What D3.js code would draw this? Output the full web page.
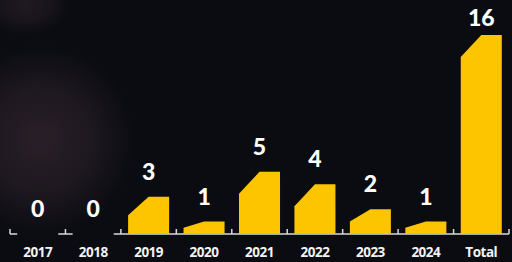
<!DOCTYPE html>
<html>
<head>
<meta charset="utf-8">
<script src="https://cdn.jsdelivr.net/npm/d3@7"></script>
<style>
  html, body { margin: 0; padding: 0; background: #0a0c11; }
  svg { display: block; }
</style>
</head>
<body>
<div id="chart"></div>
<script>
var years = ['2017', '2018', '2019', '2020', '2021', '2022', '2023', '2024', 'Total'];
var counts = [0, 0, 3, 1, 5, 4, 2, 1, 16];

var width = 512, height = 262;
var baseline = 234;

var svg = d3.select('#chart')
    .append('svg')
    .attr('width', width)
    .attr('height', height);

// soft purple glow left over from the photo behind the chart
var defs = svg.append('defs');
var glow = defs.append('radialGradient').attr('id', 'glow');
glow.append('stop').attr('offset', '0%').attr('stop-color', '#2b2029').attr('stop-opacity', 0.95);
glow.append('stop').attr('offset', '55%').attr('stop-color', '#2b2029').attr('stop-opacity', 0.6);
glow.append('stop').attr('offset', '100%').attr('stop-color', '#2b2029').attr('stop-opacity', 0);

svg.append('rect')
    .attr('width', width)
    .attr('height', height)
    .attr('fill', '#0a0c11');

svg.append('ellipse')
    .attr('cx', 40).attr('cy', 140)
    .attr('rx', 95).attr('ry', 95)
    .attr('fill', 'url(#glow)');
svg.append('ellipse')
    .attr('cx', 25).attr('cy', 5)
    .attr('rx', 45).attr('ry', 30)
    .attr('fill', 'url(#glow)')
    .attr('opacity', 0.7);

var x = d3.scaleBand()
    .domain(years)
    .range([10, 509])
    .paddingInner(0.26)
    .paddingOuter(0.13);

var y = d3.scaleLinear()
    .domain([0, 16])
    .range([baseline, 35]);

// axis: light line with little ticks between the bars
var axis = svg.append('g')
    .attr('transform', 'translate(0,' + baseline + ')')
    .call(d3.axisBottom(x).tickSize(0).tickFormat(''));
axis.select('.domain')
    .attr('d', 'M' + x.range()[0] + ',0H' + x.range()[1])
    .attr('stroke', '#d8d8d8')
    .attr('stroke-width', 1.5);

var edges = [x.range()[0]];
years.forEach(function(d) { edges.push(x(d) + x.bandwidth() + x.step() * x.paddingInner() / 2); });
edges[edges.length - 1] = x.range()[1];
axis.selectAll('.sep')
    .data(edges)
    .enter().append('line')
    .attr('class', 'sep')
    .attr('x1', function(d) { return d; })
    .attr('x2', function(d) { return d; })
    .attr('y1', 0)
    .attr('y2', -5)
    .attr('stroke', '#d8d8d8')
    .attr('stroke-width', 1.5);

// bars with the clipped top-left corner
function barPath(d, i) {
    var x0 = x(years[i]), x1 = x0 + x.bandwidth();
    var top = y(d);
    var h = baseline - top;
    var dy = Math.min(h / 2, 22);
    var dx = x.bandwidth() / 2;
    return 'M' + x0 + ',' + baseline
        + 'L' + x0 + ',' + (top + dy)
        + 'L' + (x0 + dx) + ',' + top
        + 'L' + x1 + ',' + top
        + 'L' + x1 + ',' + baseline + 'Z';
}

svg.selectAll('.bar')
    .data(counts)
    .enter().append('path')
    .attr('class', 'bar')
    .attr('d', barPath)
    .attr('fill', '#fcc500');

// zero bars show as a dark strip over the axis line
svg.selectAll('.zero')
    .data(counts.map(function(d, i) { return [d, i]; }).filter(function(p) { return p[0] === 0; }))
    .enter().append('rect')
    .attr('class', 'zero')
    .attr('x', function(p) { return x(years[p[1]]); })
    .attr('y', baseline - 1)
    .attr('width', x.bandwidth())
    .attr('height', 2)
    .attr('fill', '#0a0c11');

svg.selectAll('.val')
    .data(counts)
    .enter().append('text')
    .attr('class', 'val')
    .attr('x', function(d, i) { return x(years[i]) + x.bandwidth() / 2; })
    .attr('y', function(d) { return Math.max(y(d) - 17, 26); })
    .attr('text-anchor', 'middle')
    .attr('fill', '#ffffff')
    .style('font-family', 'Lato, "Open Sans", sans-serif')
    .style('font-weight', 900)
    .style('font-size', '23px')
    .text(function(d) { return d; });

svg.selectAll('.year')
    .data(years)
    .enter().append('text')
    .attr('class', 'year')
    .attr('x', function(d) { return x(d) + x.bandwidth() / 2; })
    .attr('y', 257)
    .attr('text-anchor', 'middle')
    .attr('fill', '#f2f2f2')
    .style('font-family', '"Open Sans", sans-serif')
    .style('font-weight', 700)
    .style('font-size', '13.5px')
    .style('letter-spacing', '-0.5px')
    .text(function(d) { return d; });
</script>
</body>
</html>
